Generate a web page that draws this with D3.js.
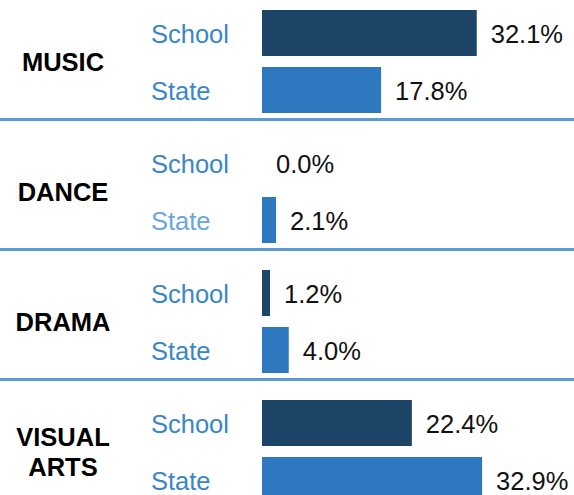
<!DOCTYPE html>
<html>
<head>
<meta charset="utf-8">
<script src="https://cdn.jsdelivr.net/npm/d3@7"></script>
<style>
	html, body { margin: 0; padding: 0; background: #fff; }
	svg text { font-family: "Liberation Sans", Arial, sans-serif; }
</style>
</head>
<body>
<svg id="chart" width="574" height="495"></svg>
<script>
// chart values
const categories = ['MUSIC', 'DANCE', 'DRAMA', 'VISUAL ARTS'];
const groups = ['School', 'State'];
const schoolValues = [32.1, 0.0, 1.2, 22.4];
const stateValues = [17.8, 2.1, 4.0, 32.9];

const W = 574, H = 495;
const svg = d3.select('#chart');

const colors = {School: '#1d4568', State: '#2e78bf'};
const labelColor = '#3a86c8';

// one band per art form, 130px each
const yCat = d3.scaleBand()
	.domain(categories)
	.range([0, 520])
	.paddingInner(0);

// school / state inside each band
const yGrp = d3.scaleBand()
	.domain(groups)
	.range([10, 113])
	.paddingInner(11 / 57)
	.paddingOuter(0);

const xScale = d3.scaleLinear()
	.domain([0, 10])
	.range([262, 262 + 66.9]);

const rows = [];
categories.forEach((c, i) => {
	rows.push({cat: c, grp: 'School', value: schoolValues[i], idx: i});
	rows.push({cat: c, grp: 'State', value: stateValues[i], idx: i});
});

const g = svg.append('g');

// separators between sections
g.selectAll('line.sep').data(categories.slice(1))
	.enter().append('line')
	.attr('class', 'sep')
	.attr('x1', 0)
	.attr('x2', W)
	.attr('y1', d => yCat(d) - 10.5)
	.attr('y2', d => yCat(d) - 10.5)
	.attr('stroke', '#5b9bd5')
	.attr('stroke-width', 3);

// bars
g.selectAll('rect.bar').data(rows)
	.enter().append('rect')
	.attr('class', 'bar')
	.attr('x', xScale(0))
	.attr('y', d => yCat(d.cat) + yGrp(d.grp))
	.attr('width', d => xScale(d.value) - xScale(0))
	.attr('height', yGrp.bandwidth())
	.attr('fill', d => colors[d.grp]);

// value labels
g.selectAll('text.val').data(rows)
	.enter().append('text')
	.attr('class', 'val')
	.attr('x', d => xScale(d.value) + 14)
	.attr('y', d => yCat(d.cat) + yGrp(d.grp) + yGrp.bandwidth() / 2 + 9.5)
	.attr('font-size', 25.5)
	.attr('fill', '#111')
	.text(d => d.value.toFixed(1) + '%');

// group labels
g.selectAll('text.grp').data(rows)
	.enter().append('text')
	.attr('class', 'grp')
	.attr('x', 151)
	.attr('y', d => yCat(d.cat) + yGrp(d.grp) + yGrp.bandwidth() / 2 + 9.5)
	.attr('font-size', 25.5)
	.attr('fill', d => (d.cat === 'DANCE' && d.grp === 'State') ? '#6aa6e0' : labelColor)
	.text(d => d.grp);

// category labels
const catText = g.selectAll('text.cat').data(categories)
	.enter().append('text')
	.attr('class', 'cat')
	.attr('text-anchor', 'middle')
	.attr('font-size', 25.5)
	.attr('font-weight', 'bold')
	.attr('fill', '#000');

catText.each(function(d) {
	const words = d.split(' ');
	const mid = yCat(d) + (yGrp('School') + yGrp('State') + yGrp.bandwidth()) / 2;
	const lh = 29.5;
	const y0 = mid + 9.5 - (words.length - 1) * lh / 2;
	d3.select(this).selectAll('tspan').data(words)
		.enter().append('tspan')
		.attr('x', 63)
		.attr('y', (w, j) => y0 + j * lh)
		.text(w => w);
});
</script>
</body>
</html>
